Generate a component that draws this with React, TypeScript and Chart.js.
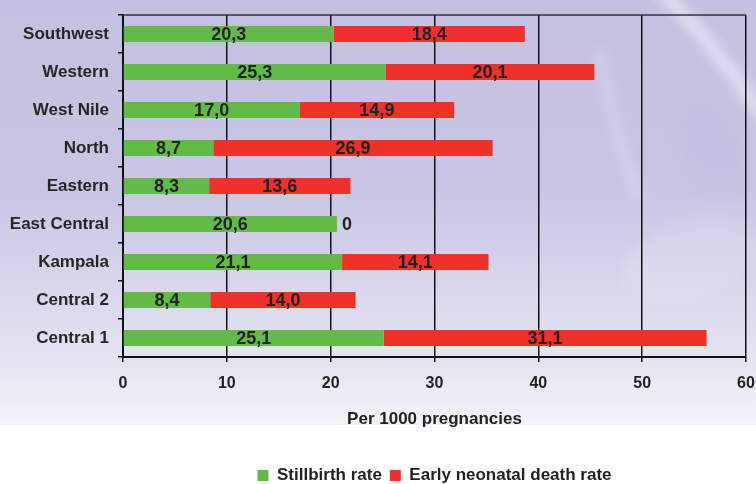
import React, { useEffect, useRef } from "react";
import { Chart, registerables } from "chart.js";

Chart.register(...registerables);

const regions = ["Southwest", "Western", "West Nile", "North", "Eastern", "East Central", "Kampala", "Central 2", "Central 1"];
const stillbirthRate = [20.3, 25.3, 17.0, 8.7, 8.3, 20.6, 21.1, 8.4, 25.1];
const earlyNeonatalRate = [18.4, 20.1, 14.9, 26.9, 13.6, 0, 14.1, 14.0, 31.1];
const xTicks = [0, 10, 20, 30, 40, 50, 60];

const W = 756;
const H = 494;

const backgroundPlugin = {
  id: "bgPaint",
  beforeDraw(chart: any) {
    const ctx = chart.ctx as CanvasRenderingContext2D;
    ctx.save();
    ctx.fillStyle = "#ffffff";
    ctx.fillRect(0, 0, W, H);
    const g = ctx.createLinearGradient(0, 0, 0, 425);
    g.addColorStop(0, "#c3c1e1");
    g.addColorStop(0.45, "#c8c6e4");
    g.addColorStop(0.75, "#dddcee");
    g.addColorStop(1, "#f3f3f9");
    ctx.fillStyle = g;
    ctx.fillRect(0, 0, W, 425);
    ctx.beginPath();
    ctx.rect(0, 0, W, 425);
    ctx.clip();
    ctx.filter = "blur(6px)";
    ctx.strokeStyle = "rgba(255,255,255,0.5)";
    ctx.lineWidth = 13;
    ctx.beginPath();
    ctx.moveTo(660, -10);
    ctx.quadraticCurveTo(715, 45, 770, 125);
    ctx.stroke();
    ctx.strokeStyle = "rgba(255,255,255,0.22)";
    ctx.lineWidth = 10;
    ctx.beginPath();
    ctx.moveTo(600, 50);
    ctx.quadraticCurveTo(612, 130, 640, 200);
    ctx.stroke();
    ctx.fillStyle = "rgba(185,183,218,0.25)";
    ctx.beginPath();
    ctx.ellipse(712, 150, 30, 50, -0.4, 0, Math.PI * 2);
    ctx.fill();
    ctx.fillStyle = "rgba(255,255,255,0.12)";
    ctx.beginPath();
    ctx.ellipse(690, 260, 70, 40, -0.3, 0, Math.PI * 2);
    ctx.fill();
    ctx.restore();
  },
  afterDraw(chart: any) {
    const ctx = chart.ctx as CanvasRenderingContext2D;
    const a = chart.chartArea;
    ctx.save();
    ctx.strokeStyle = "#333333";
    ctx.lineWidth = 1.5;
    ctx.beginPath();
    ctx.moveTo(a.left, a.top);
    ctx.lineTo(a.right, a.top);
    ctx.stroke();
    ctx.restore();
  },
};

const valueLabelPlugin = {
  id: "valueLabels",
  afterDatasetsDraw(chart: any) {
    const ctx = chart.ctx as CanvasRenderingContext2D;
    ctx.save();
    ctx.font = "bold 18px 'Liberation Sans', Arial, sans-serif";
    ctx.fillStyle = "#222222";
    ctx.textAlign = "center";
    ctx.textBaseline = "middle";
    chart.data.datasets.forEach((ds: any, di: number) => {
      const meta = chart.getDatasetMeta(di);
      meta.data.forEach((bar: any, i: number) => {
        const v = ds.data[i] as number;
        const text = v === 0 ? "0" : v.toFixed(1).replace(".", ",");
        const props = bar.getProps(["x", "y", "base"], true);
        let cx = (props.x + props.base) / 2;
        if (v === 0) cx = props.x + 10;
        ctx.fillText(text, cx, props.y + 1);
      });
    });
    ctx.restore();
  },
};

export default function App() {
  const ref = useRef<HTMLCanvasElement | null>(null);
  useEffect(() => {
    document.body.style.margin = "0";
    document.body.style.overflow = "hidden";
    const font = "'Liberation Sans', Arial, sans-serif";
    const chart = new Chart(ref.current as HTMLCanvasElement, {
      type: "bar",
      data: {
        labels: regions,
        datasets: [
          {
            label: "Stillbirth rate",
            data: stillbirthRate,
            backgroundColor: "#62bb46",
            borderWidth: 0,
            barPercentage: 0.42,
            categoryPercentage: 1,
          },
          {
            label: "Early neonatal death rate",
            data: earlyNeonatalRate,
            backgroundColor: "#ee3129",
            borderWidth: 0,
            barPercentage: 0.42,
            categoryPercentage: 1,
          },
        ],
      },
      options: {
        indexAxis: "y",
        animation: false,
        responsive: false,
        layout: { padding: { top: 15, right: 10, left: 0, bottom: 0 } },
        plugins: {
          tooltip: { enabled: false },
          legend: {
            position: "bottom",
            fullSize: false,
            labels: {
              boxWidth: 11,
              boxHeight: 11,
              padding: 8,
              color: "#222222",
              font: { family: font, size: 17, weight: "bold" },
            },
          },
        },
        scales: {
          x: {
            stacked: true,
            min: 0,
            max: 60,
            afterBuildTicks(scale: any) {
              scale.ticks = xTicks.map((v) => ({ value: v }));
            },
            afterFit(scale: any) {
              scale.height = 102;
              scale.paddingLeft = 0;
              scale.paddingRight = 0;
            },
            grid: {
              color: "#111111",
              lineWidth: 1.5,
              drawTicks: true,
              tickLength: 5,
              tickColor: "#111111",
            },
            border: { display: true, color: "#111111", width: 2 },
            ticks: {
              padding: 12,
              color: "#222222",
              font: { family: font, size: 16, weight: "bold" },
            },
            title: {
              display: true,
              text: "Per 1000 pregnancies",
              color: "#222222",
              font: { family: font, size: 17, weight: "bold" },
              padding: { top: 0, bottom: 29 },
            },
          },
          y: {
            stacked: true,
            afterFit(scale: any) {
              scale.width = 123;
              scale.paddingTop = 0;
              scale.paddingBottom = 0;
            },
            grid: {
              offset: true,
              drawOnChartArea: false,
              drawTicks: true,
              tickLength: 5,
              tickColor: "#111111",
              lineWidth: 1.5,
            },
            border: { display: true, color: "#111111", width: 2 },
            ticks: {
              padding: 9,
              color: "#262626",
              font: { family: font, size: 17, weight: "bold" },
            },
          },
        },
      },
      plugins: [backgroundPlugin, valueLabelPlugin],
    } as any);
    return () => chart.destroy();
  }, []);
  return (
    <div style={{ position: "fixed", left: 0, top: 0, width: W, height: H }}>
      <canvas ref={ref} width={W} height={H} style={{ display: "block", width: W, height: H }} />
    </div>
  );
}
